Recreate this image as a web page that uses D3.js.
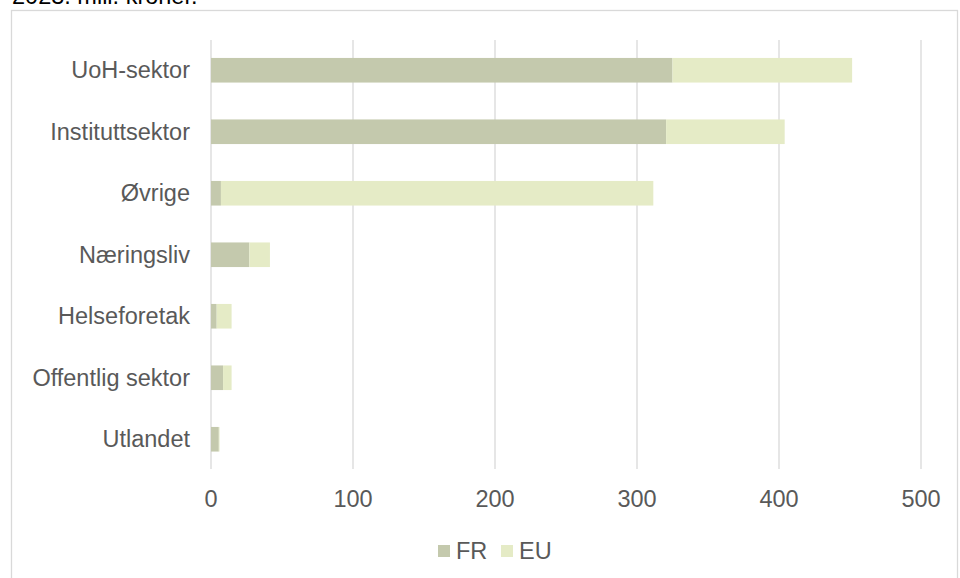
<!DOCTYPE html>
<html>
<head>
<meta charset="utf-8">
<script src="https://cdn.jsdelivr.net/npm/d3@7"></script>
<style>
  body { margin: 0; background: #fff; }
  svg text { font-family: "Liberation Sans", Arial, sans-serif; }
</style>
</head>
<body>
<div id="chart"></div>
<script>
var categories = ['UoH-sektor', 'Instituttsektor', 'Øvrige', 'Næringsliv', 'Helseforetak', 'Offentlig sektor', 'Utlandet']
var fr_values = [325, 320.5, 7, 27, 4, 8.5, 5.5]
var eu_values = [126.5, 83.5, 304.5, 14.5, 10.5, 6, 0.5]
var series = ['FR', 'EU']
var x_ticks = [0, 100, 200, 300, 400, 500]

var width = 960, height = 578
var colors = { FR: '#c4c9ad', EU: '#e5ebc6' }

var svg = d3.select('#chart')
    .append('svg')
        .attr('width', width)
        .attr('height', height)

// outer frame of the chart area
svg.append('rect')
    .attr('x', 11.5)
    .attr('y', 10.5)
    .attr('width', 946)
    .attr('height', 600)
    .attr('fill', 'none')
    .attr('stroke', '#d9d9d9')
    .attr('stroke-width', 1.3)

// title, cut off at the top
svg.append('text')
    .attr('x', 12)
    .attr('y', 4)
    .attr('fill', '#000')
    .attr('font-size', '23.5px')
    .text('2023. mill. kroner.')

var x = d3.scaleLinear()
    .domain([0, 500])
    .range([211, 921])

var y = d3.scaleBand()
    .domain(categories)
    .range([39.5, 470])
    .paddingInner(0.6)
    .paddingOuter(0.3)

// gridlines
svg.append('g')
    .selectAll('line')
    .data(x_ticks)
    .enter()
    .append('line')
        .attr('x1', function(d){ return x(d) })
        .attr('x2', function(d){ return x(d) })
        .attr('y1', 40)
        .attr('y2', 469)
        .attr('stroke', '#d9d9d9')
        .attr('stroke-width', 1.3)

// stacked data
var rows = categories.map(function(c, i){
    return { cat: c, FR: fr_values[i], EU: eu_values[i] }
})
var stacked = d3.stack().keys(series)(rows)

svg.append('g')
    .selectAll('g')
    .data(stacked)
    .enter()
    .append('g')
        .attr('fill', function(d){ return colors[d.key] })
    .selectAll('rect')
    .data(function(d){ return d })
    .enter()
    .append('rect')
        .attr('x', function(d){ return x(d[0]) })
        .attr('width', function(d){ return Math.max(0, x(d[1]) - x(d[0])) })
        .attr('y', function(d){ return y(d.data.cat) })
        .attr('height', y.bandwidth())

// category labels
svg.append('g')
    .selectAll('text')
    .data(categories)
    .enter()
    .append('text')
        .attr('x', 190)
        .attr('y', function(d){ return y(d) + y.bandwidth()/2 })
        .attr('dy', '0.35em')
        .attr('text-anchor', 'end')
        .attr('fill', '#595959')
        .attr('font-size', '23.5px')
        .text(function(d){ return d })

// x tick labels
svg.append('g')
    .selectAll('text')
    .data(x_ticks)
    .enter()
    .append('text')
        .attr('x', function(d){ return x(d) })
        .attr('y', 506.5)
        .attr('text-anchor', 'middle')
        .attr('fill', '#595959')
        .attr('font-size', '23.5px')
        .text(function(d){ return d })

// legend
var legend_x = [438, 501]
var legend = svg.append('g')
    .selectAll('g')
    .data(series)
    .enter()
    .append('g')
        .attr('transform', function(d, i){ return 'translate(' + legend_x[i] + ',545)' })

legend.append('rect')
    .attr('width', 12)
    .attr('height', 12)
    .attr('fill', function(d){ return colors[d] })

legend.append('text')
    .attr('x', 18)
    .attr('y', 6)
    .attr('dy', '0.35em')
    .attr('fill', '#595959')
    .attr('font-size', '23.5px')
    .text(function(d){ return d })
</script>
</body>
</html>
